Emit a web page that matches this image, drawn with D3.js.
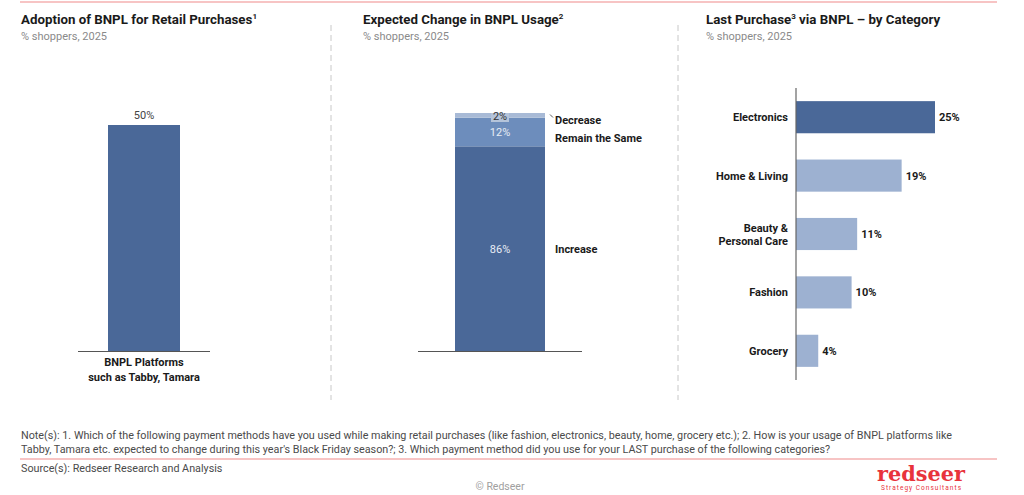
<!DOCTYPE html>
<html><head><meta charset="utf-8">
<script src="https://cdn.jsdelivr.net/npm/d3@7"></script>
<style>
body{margin:0;background:#fff;}
text{font-family:Roboto,"Noto Sans",sans-serif;}
</style></head>
<body>
<svg id="c" width="1024" height="495"></svg>
<script>
// Data
const p1Categories = ["BNPL Platforms|such as Tabby, Tamara"];
const p1Values = [50];
const p2Segments = ["Increase", "Remain the Same", "Decrease"];
const p2Values = [86, 12, 2];
const p3Categories = ["Electronics", "Home & Living", "Beauty &|Personal Care", "Fashion", "Grocery"];
const p3Values = [25, 19, 11, 10, 4];
const titles = ["Adoption of BNPL for Retail Purchases", "Expected Change in BNPL Usage", "Last Purchase", "via BNPL – by Category"];
const subtitle = "% shoppers, 2025";
const notes = [
  "Note(s): 1. Which of the following payment methods have you used while making retail purchases (like fashion, electronics, beauty, home, grocery etc.); 2. How is your usage of BNPL platforms like",
  "Tabby, Tamara etc. expected to change during this year's Black Friday season?; 3. Which payment method did you use for your LAST purchase of the following categories?"
];
const source = "Source(s): Redseer Research and Analysis";

const svg = d3.select("#c");
const dark = "#4a6898", mid = "#6d8dbc", light = "#a8bad6", lightBar = "#9db1d1";
const red = "#e8333b";

// top red line
svg.append("line").attr("x1",20).attr("x2",997).attr("y1",2).attr("y2",2).attr("stroke","#f08a8a").attr("stroke-width",1.2);

// titles
function title(x, parts){
  const t = svg.append("text").attr("x",x).attr("y",24).attr("font-size",13.3).attr("font-weight",700).attr("fill","#1a1a1a");
  parts.forEach(p=>{
    if(p.sup) t.append("tspan").attr("font-size",8).attr("dy",-5).text(p.t);
    else t.append("tspan").attr("dy", p.after ? 5 : 0).text(p.t);
  });
  svg.append("text").attr("x",x).attr("y",40).attr("font-size",11).attr("fill","#8a8a8a").text(subtitle);
}
title(21,[{t:titles[0]},{t:"1",sup:true}]);
title(363,[{t:titles[1]},{t:"2",sup:true}]);
title(706,[{t:titles[2]},{t:"3",sup:true},{t:" "+titles[3],after:true}]);

// separators
[331,678].forEach(x=>svg.append("line").attr("x1",x).attr("x2",x).attr("y1",25).attr("y2",400)
  .attr("stroke","#c8c8c8").attr("stroke-dasharray","6,4").attr("stroke-width",1));

// Panel 1
const x1 = d3.scaleBand().domain(p1Categories).range([78,210]).paddingInner(0).paddingOuter(0.4167);
const y1 = d3.scaleLinear().domain([0,50]).range([351,125]);
svg.selectAll(".b1").data(p1Values).join("rect")
  .attr("x",(d,i)=>x1(p1Categories[i])).attr("width",x1.bandwidth())
  .attr("y",d=>y1(d)).attr("height",d=>y1(0)-y1(d)).attr("fill",dark);
svg.selectAll(".l1").data(p1Values).join("text")
  .attr("x",(d,i)=>x1(p1Categories[i])+x1.bandwidth()/2).attr("y",d=>y1(d)-6)
  .attr("text-anchor","middle").attr("font-size",11).attr("fill","#444").text(d=>d+"%");
svg.append("line").attr("x1",78).attr("x2",210).attr("y1",351.5).attr("y2",351.5).attr("stroke","#555").attr("stroke-width",1.2);
p1Categories.forEach(c=>{
  const cx = x1(c)+x1.bandwidth()/2;
  c.split("|").forEach((s,j)=>svg.append("text").attr("x",cx).attr("y",366+j*15).attr("text-anchor","middle")
    .attr("font-size",11).attr("font-weight",700).attr("fill","#1a1a1a").text(s));
});

// Panel 2
const y2 = d3.scaleLinear().domain([0,100]).range([351,113]);
const stack = d3.stack().keys(p2Segments)([Object.fromEntries(p2Segments.map((k,i)=>[k,p2Values[i]]))]);
const cols2 = [dark, mid, light];
const bx = 455, bw = 90;
stack.forEach((s,i)=>{
  const d = s[0];
  svg.append("rect").attr("x",bx).attr("width",bw).attr("y",y2(d[1])).attr("height",y2(d[0])-y2(d[1])).attr("fill",cols2[i]);
});
svg.append("line").attr("x1",418).attr("x2",582).attr("y1",351.5).attr("y2",351.5).attr("stroke","#555").attr("stroke-width",1.2);
// value labels
stack.forEach((s,i)=>{
  const d = s[0], v = p2Values[i];
  if(i<2){
    svg.append("text").attr("x",bx+bw/2).attr("y",(y2(d[0])+y2(d[1]))/2+4).attr("text-anchor","middle")
      .attr("font-size",11).attr("fill","#e8edf5").text(v+"%");
  } else {
    svg.append("rect").attr("x",bx+bw/2-9).attr("y",y2(d[1])).attr("width",18).attr("height",9).attr("fill","#b5c4da");
    svg.append("text").attr("x",bx+bw/2).attr("y",y2(d[1])+7).attr("text-anchor","middle")
      .attr("font-size",11).attr("fill","#333").text(v+"%");
  }
});
// right labels
const lblY = [249, 138, 120];
p2Segments.forEach((k,i)=>svg.append("text").attr("x",555).attr("y",lblY[i]+4).attr("font-size",11)
  .attr("font-weight",700).attr("fill","#1a1a1a").text(k));
svg.append("line").attr("x1",550).attr("y1",114.5).attr("x2",553).attr("y2",117.5).attr("stroke","#333").attr("stroke-width",0.8);

// Panel 3
const y3 = d3.scaleBand().domain(p3Categories).range([88,380]).paddingInner(0.45).paddingOuter(0.225);
const x3 = d3.scaleLinear().domain([0,25]).range([796,935]);
svg.selectAll(".b3").data(p3Values).join("rect")
  .attr("x",x3(0)).attr("y",(d,i)=>y3(p3Categories[i])).attr("height",y3.bandwidth())
  .attr("width",d=>x3(d)-x3(0)).attr("fill",(d,i)=>i===0?dark:lightBar);
svg.append("line").attr("x1",796).attr("x2",796).attr("y1",88).attr("y2",380).attr("stroke","#666").attr("stroke-width",1.2);
svg.selectAll(".v3").data(p3Values).join("text")
  .attr("x",d=>x3(d)+4).attr("y",(d,i)=>y3(p3Categories[i])+y3.bandwidth()/2+4)
  .attr("font-size",11).attr("font-weight",700).attr("fill","#1a1a1a").text(d=>d+"%");
p3Categories.forEach(c=>{
  const parts = c.split("|");
  const cy = y3(c)+y3.bandwidth()/2;
  parts.forEach((s,j)=>svg.append("text").attr("x",788).attr("y",cy+4+(j-(parts.length-1)/2)*13)
    .attr("text-anchor","end").attr("font-size",11).attr("font-weight",700).attr("fill","#1a1a1a").text(s));
});

// Footer
notes.forEach((n,i)=>svg.append("text").attr("x",21).attr("y",439+i*14).attr("font-size",10.77).attr("fill","#4a4a4a").text(n));
svg.append("line").attr("x1",20).attr("x2",997).attr("y1",459).attr("y2",459).attr("stroke","#f08a8a").attr("stroke-width",1.2);
svg.append("text").attr("x",21).attr("y",472).attr("font-size",10.77).attr("fill","#4a4a4a").text(source);
svg.append("text").attr("x",500).attr("y",490).attr("text-anchor","middle").attr("font-size",10.5).attr("fill","#a0a0a0").text("© Redseer");
// logo
svg.append("text").attr("x",921).attr("y",481).attr("text-anchor","middle")
  .style("font-family","'DejaVu Serif',serif").style("font-size","20px").style("font-weight","900")
  .attr("textLength",88).attr("lengthAdjust","spacingAndGlyphs").attr("fill",red).text("redseer");
svg.append("text").attr("x",921).attr("y",490).attr("text-anchor","middle").attr("font-size",6.5)
  .attr("textLength",80).attr("fill",red).text("Strategy Consultants");
</script>
</body></html>
